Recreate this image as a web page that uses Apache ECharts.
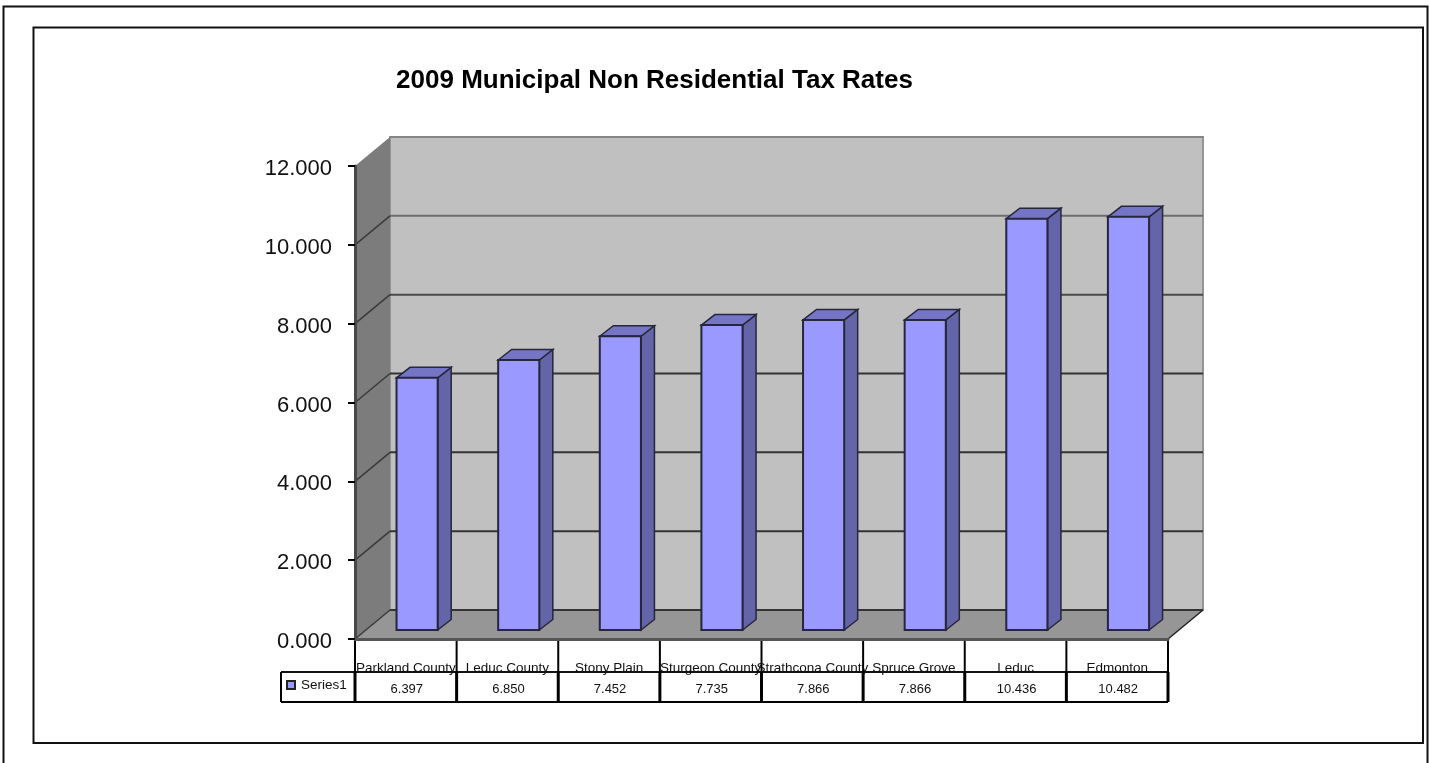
<!DOCTYPE html>
<html>
<head>
<meta charset="utf-8">
<title>2009 Municipal Non Residential Tax Rates</title>
<script src="https://cdn.jsdelivr.net/npm/echarts@6/dist/echarts.min.js"></script>
<style>
  html, body { margin: 0; padding: 0; background: #fff; }
  #chart { width: 1429px; height: 763px; }
</style>
</head>
<body>
<div id="chart"></div>
<script>
// Mill rates by municipality
const chartTitle = '2009 Municipal Non Residential Tax Rates';
const seriesName = 'Series1';
const municipalities = ['Parkland County', 'Leduc County', 'Stony Plain', 'Sturgeon County',
  'Strathcona County', 'Spruce Grove', 'Leduc', 'Edmonton'];
const taxRates = [6.397, 6.850, 7.452, 7.735, 7.866, 7.866, 10.436, 10.482];
const gridValues = [0, 2, 4, 6, 8, 10, 12];

// Pseudo-3D box: how far the back wall and the bars sit behind the axis plane
const WALL_DX = 35, WALL_DY = -29;
const BAR_DX = 11.3, BAR_DY = -9;
const BAR_DEPTH_X = 13.5, BAR_DEPTH_Y = -10.5;
const BAR_WIDTH_RATIO = 0.405;
const TEXT_FONT = '"Liberation Sans", Arial, sans-serif';

const poly = (points, fill, stroke, lineWidth) => ({
  type: 'polygon',
  shape: { points },
  style: { fill, stroke: stroke || 'none', lineWidth: lineWidth || 0 }
});
const seg = (x1, y1, x2, y2, stroke, lineWidth) => ({
  type: 'line',
  shape: { x1, y1, x2, y2 },
  style: { stroke, lineWidth, fill: 'none' }
});
const gridLineColor = v => (v >= 12 ? '#858585' : v >= 10 ? '#6e6e6e' : v >= 8 ? '#4a4a4a' : '#333333');

// Side wall, floor and back wall with their gridlines
function renderWalls(params, api) {
  const cs = params.coordSys;
  const left = cs.x, right = cs.x + cs.width;
  const top = api.coord([0, 12])[1], base = api.coord([0, 0])[1];
  const backL = left + WALL_DX, backR = right + WALL_DX;
  const children = [
    poly([[backL, top + WALL_DY], [backR, top + WALL_DY], [backR, base + WALL_DY], [backL, base + WALL_DY]],
      '#c0c0c0', '#949494', 2),
    poly([[left, top], [backL, top + WALL_DY], [backL, base + WALL_DY], [left, base]], '#7c7c7c'),
    poly([[left, base], [backL, base + WALL_DY], [backR, base + WALL_DY], [right, base]], '#969696')
  ];
  gridValues.forEach(v => {
    const y = api.coord([0, v])[1];
    children.push(seg(backL, y + WALL_DY, backR, y + WALL_DY, gridLineColor(v), 2));
    if (v < 12) children.push(seg(left, y, backL, y + WALL_DY, '#3a3a3a', 1.5));
  });
  children.push(seg(right, base, backR, base + WALL_DY, '#222222', 1.5));
  return { type: 'group', children };
}

// One box per municipality: front face, top and right side
function renderBar(params, api) {
  const idx = api.value(0);
  const band = api.size([1, 0])[0];
  const w = band * BAR_WIDTH_RATIO;
  const [cx, y0] = api.coord([idx, 0]);
  const yv = api.coord([idx, api.value(1)])[1];
  const x1 = cx + BAR_DX - w / 2, x2 = x1 + w;
  const yB = y0 + BAR_DY, yT = yv + BAR_DY;
  const line = '#26263c';
  return {
    type: 'group',
    children: [
      poly([[x2, yT], [x2 + BAR_DEPTH_X, yT + BAR_DEPTH_Y], [x2 + BAR_DEPTH_X, yB + BAR_DEPTH_Y], [x2, yB]], '#6464a8', line, 1.5),
      poly([[x1, yT], [x1 + BAR_DEPTH_X, yT + BAR_DEPTH_Y], [x2 + BAR_DEPTH_X, yT + BAR_DEPTH_Y], [x2, yT]], '#7575c6', line, 1.5),
      poly([[x1, yT], [x2, yT], [x2, yB], [x1, yB]], '#9999ff', line, 2)
    ]
  };
}

// Data table under the plot: rules first, then the value row
const TABLE_ROW_Y = 672, TABLE_BOTTOM_Y = 702, TABLE_LEFT_X = 281;
function renderTableRules(params, api) {
  const cs = params.coordSys;
  const base = api.coord([0, 0])[1];
  const band = cs.width / municipalities.length;
  const children = [
    seg(TABLE_LEFT_X, TABLE_ROW_Y, cs.x + cs.width, TABLE_ROW_Y, '#111111', 2),
    seg(TABLE_LEFT_X, TABLE_BOTTOM_Y, cs.x + cs.width, TABLE_BOTTOM_Y, '#000000', 2),
    seg(TABLE_LEFT_X, TABLE_ROW_Y, TABLE_LEFT_X, TABLE_BOTTOM_Y, '#000000', 2)
  ];
  for (let i = 0; i <= municipalities.length; i++) {
    const x = cs.x + band * i;
    children.push(seg(x, base + 1, x, TABLE_ROW_Y, '#000000', 2));
    children.push(seg(x, TABLE_ROW_Y, x, TABLE_BOTTOM_Y, '#000000', 3));
  }
  return { type: 'group', children };
}
function renderTableValue(params, api) {
  const cx = api.coord([api.value(0), 0])[0];
  return {
    type: 'text',
    style: {
      text: api.value(1).toFixed(3),
      x: cx + 1, y: 689,
      textAlign: 'center', textVerticalAlign: 'middle',
      fontSize: 13, fontFamily: TEXT_FONT, fill: '#111111'
    }
  };
}

const barData = taxRates.map((v, i) => [i, v]);
const chart = echarts.init(document.getElementById('chart'), null, { renderer: 'canvas' });
chart.setOption({
  animation: false,
  backgroundColor: '#ffffff',
  title: {
    text: chartTitle,
    left: 649.5, top: 63, textAlign: 'center',
    textStyle: { fontFamily: TEXT_FONT, fontSize: 26, fontWeight: 'bold', color: '#000000' }
  },
  legend: {
    data: [seriesName],
    left: 286, top: 678,
    padding: 0,
    itemWidth: 8, itemHeight: 8, itemGap: 0,
    icon: 'rect',
    textStyle: { fontFamily: TEXT_FONT, fontSize: 13.5, color: '#111111', padding: [2, 0, 0, 1] }
  },
  grid: { left: 355, right: 261, top: 166, bottom: 124, containLabel: false },
  xAxis: {
    type: 'category',
    data: municipalities,
    z: 6,
    axisLine: { show: true, lineStyle: { color: '#555555', width: 3 } },
    axisTick: { show: false },
    axisLabel: {
      interval: 0, margin: 22, hideOverlap: false,
      fontFamily: TEXT_FONT, fontSize: 13.5, color: '#111111'
    },
    splitLine: { show: false }
  },
  yAxis: {
    type: 'value',
    min: 0, max: 12, interval: 2,
    z: 6,
    axisLine: { show: true, lineStyle: { color: '#484848', width: 3 } },
    axisTick: { show: true, length: 7, lineStyle: { color: '#000000', width: 2 } },
    axisLabel: {
      margin: 23,
      verticalAlign: 'top',
      lineHeight: 6,
      fontFamily: TEXT_FONT, fontSize: 22, color: '#111111',
      formatter: v => v.toFixed(3)
    },
    splitLine: { show: false }
  },
  series: [
    { name: 'walls', type: 'custom', coordinateSystem: 'cartesian2d', silent: true, z: 1,
      data: [[0, 0]], renderItem: renderWalls },
    { name: seriesName, type: 'custom', coordinateSystem: 'cartesian2d', z: 2,
      itemStyle: { color: '#9999ff', borderColor: '#222222', borderWidth: 1 },
      data: barData, renderItem: renderBar },
    { name: 'table rules', type: 'custom', coordinateSystem: 'cartesian2d', silent: true, z: 3,
      data: [[0, 0]], renderItem: renderTableRules },
    { name: 'table values', type: 'custom', coordinateSystem: 'cartesian2d', silent: true, z: 4,
      data: barData, renderItem: renderTableValue }
  ],
  // Page frames around the chart
  graphic: [
    { type: 'polyline', silent: true,
      shape: { points: [[3.5, 763], [3.5, 6.5], [1427.5, 6.5], [1427.5, 763]] },
      style: { stroke: '#111111', fill: 'none', lineWidth: 2 } },
    { type: 'rect', silent: true,
      shape: { x: 33.5, y: 27.5, width: 1389.5, height: 715.5 },
      style: { stroke: '#111111', fill: 'none', lineWidth: 2 } }
  ]
});
</script>
</body>
</html>
